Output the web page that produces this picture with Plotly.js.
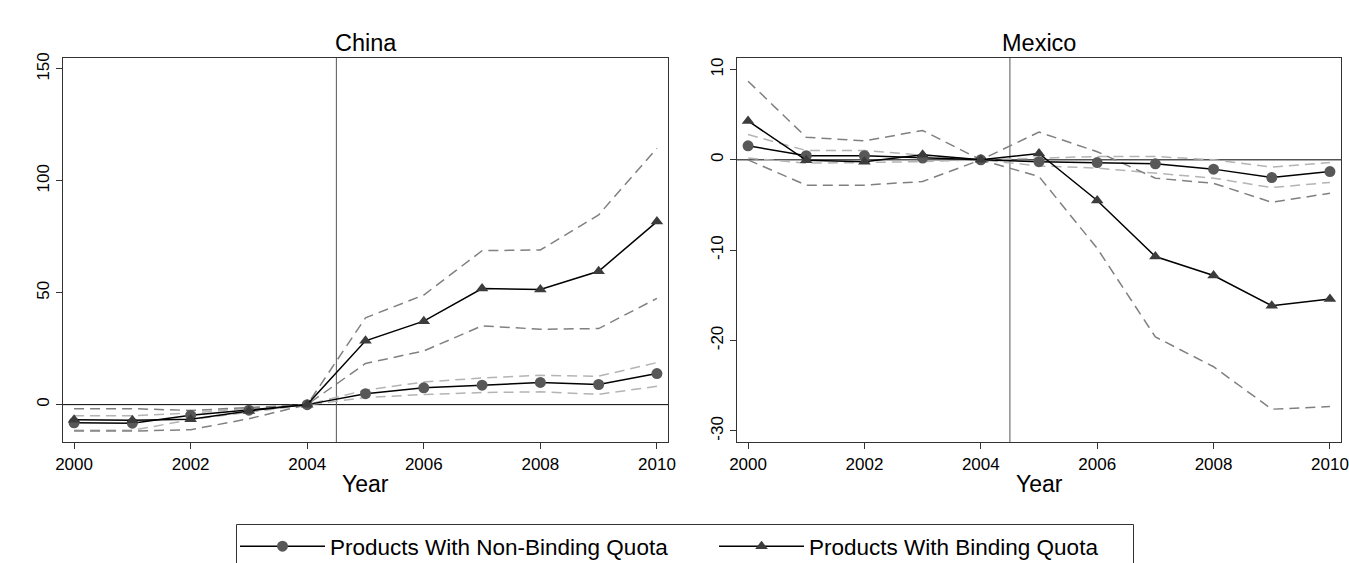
<!DOCTYPE html>
<html>
<head>
<meta charset="utf-8">
<script src="https://cdn.plot.ly/plotly-3.0.1.min.js"></script>
<style>
html,body{margin:0;padding:0;background:#fff;overflow:hidden;}
#chart{width:1349px;height:563px;}
</style>
</head>
<body>
<div id="chart"></div>
<script>
// ---------- data ----------
const years = [2000, 2001, 2002, 2003, 2004, 2005, 2006, 2007, 2008, 2009, 2010];

// China
const chinaNonBinding      = [-8.1, -8.3, -4.8, -2.5, 0, 4.9, 7.5, 8.7, 9.9, 9.0, 13.9];
const chinaNonBindingUpper = [-5.0, -5.0, -3.8, -1.6, 0, 6.5, 10.1, 11.9, 13.1, 12.7, 18.8];
const chinaNonBindingLower = [-11.5, -11.5, -6.7, -3.5, 0, 3.2, 4.5, 5.4, 5.7, 4.6, 8.2];
const chinaBinding         = [-6.8, -7.0, -6.5, -2.8, 0, 28.5, 37.3, 51.9, 51.5, 59.6, 81.8];
const chinaBindingUpper    = [-1.8, -1.8, -2.6, -1.2, 0, 38.8, 49.0, 68.8, 69.1, 84.8, 114.6];
const chinaBindingLower    = [-11.8, -11.8, -11.2, -6.3, 0, 18.4, 24.0, 35.2, 33.7, 34.0, 47.5];

// Mexico
const mexicoNonBinding      = [1.55, 0.45, 0.45, 0.2, 0, -0.2, -0.3, -0.44, -1.03, -1.96, -1.3];
const mexicoNonBindingUpper = [2.8, 1.03, 1.03, 0.55, 0, 0.18, 0.37, 0.37, 0.0, -0.8, -0.3];
const mexicoNonBindingLower = [0.2, -0.37, -0.3, -0.2, 0, -0.67, -0.92, -1.48, -2.03, -3.07, -2.5];
const mexicoBinding         = [4.3, -0.05, -0.2, 0.55, 0, 0.7, -4.5, -10.7, -12.8, -16.15, -15.4];
const mexicoBindingUpper    = [8.7, 2.5, 2.1, 3.25, 0, 3.07, 0.9, -2.03, -2.6, -4.7, -3.7];
const mexicoBindingLower    = [0.0, -2.8, -2.8, -2.4, 0, -1.85, -9.8, -19.6, -22.9, -27.6, -27.3];

const panelTitles = ["China", "Mexico"];
const axisTitle = "Year";
const seriesNames = ["Products With Non-Binding Quota", "Products With Binding Quota"];
const xTickVals = [2000, 2002, 2004, 2006, 2008, 2010];
const xTickText = ["2000", "2002", "2004", "2006", "2008", "2010"];
const chinaTickVals = [0, 50, 100, 150];
const chinaTickText = ["0", "50", "100", "150"];
const mexicoTickVals = [-30, -20, -10, 0, 10];
const mexicoTickText = ["-30", "-20", "-10", "0", "10"];
const policyYear = 2004.5;
const baseline = 0;

// ---------- styles ----------
const FONT = "Liberation Sans, Arial, Helvetica, sans-serif";
const darkDash = "#808080";
const lightDash = "#b4b4b4";
const dashPat = "10px,6px";

function ci(x, y, color, xa, ya) {
  return {x: x, y: y, xaxis: xa, yaxis: ya, mode: "lines", type: "scatter",
    line: {color: color, width: 1.5, dash: dashPat}, showlegend: false, hoverinfo: "skip"};
}
function main(x, y, sym, mcolor, name, xa, ya, show) {
  return {x: x, y: y, xaxis: xa, yaxis: ya, mode: "lines+markers", type: "scatter", name: name,
    line: {color: "#000", width: 1.5},
    marker: {symbol: sym, size: 11, color: mcolor},
    showlegend: show, legendgroup: name, hoverinfo: "skip"};
}

const data = [
  ci(years, chinaNonBindingUpper, lightDash, "x", "y"),
  ci(years, chinaNonBindingLower, lightDash, "x", "y"),
  ci(years, chinaBindingUpper, darkDash, "x", "y"),
  ci(years, chinaBindingLower, darkDash, "x", "y"),
  ci(years, mexicoNonBindingUpper, lightDash, "x2", "y2"),
  ci(years, mexicoNonBindingLower, lightDash, "x2", "y2"),
  ci(years, mexicoBindingUpper, darkDash, "x2", "y2"),
  ci(years, mexicoBindingLower, darkDash, "x2", "y2"),
  main(years, chinaNonBinding, "circle", "#585858", seriesNames[0], "x", "y", true),
  main(years, chinaBinding, "triangle-up", "#3c3c3c", seriesNames[1], "x", "y", true),
  main(years, mexicoNonBinding, "circle", "#585858", seriesNames[0], "x2", "y2", false),
  main(years, mexicoBinding, "triangle-up", "#3c3c3c", seriesNames[1], "x2", "y2", false)
];

const W = 1349, H = 563;
const px = v => v / W;
const py = v => (H - v) / H;

function xax(domain, anchor) {
  return {domain: domain, anchor: anchor, range: [1999.81, 2010.19],
    tickmode: "array", tickvals: xTickVals, ticktext: xTickText,
    ticks: "outside", ticklen: 6, tickwidth: 1, tickcolor: "#333",
    showline: true, mirror: true, linecolor: "#333", linewidth: 1.3,
    showgrid: false, zeroline: false, fixedrange: true, automargin: false,
    tickfont: {family: FONT, size: 17, color: "#000"}};
}
function yax(domain, anchor, range, tv, tt) {
  return {domain: domain, anchor: anchor, range: range,
    tickmode: "array", tickvals: tv, ticktext: tt, tickangle: -90,
    ticks: "outside", ticklen: 6, tickwidth: 1, tickcolor: "#333",
    showline: true, mirror: true, linecolor: "#333", linewidth: 1.3,
    showgrid: false, zeroline: false, fixedrange: true, automargin: false,
    tickfont: {family: FONT, size: 17, color: "#000"}};
}

const yDom = [py(442), py(58)];
const layout = {
  width: W, height: H,
  margin: {l: 0, r: 0, t: 0, b: 0, autoexpand: false},
  paper_bgcolor: "#fff", plot_bgcolor: "#fff",
  font: {family: FONT, color: "#000"},
  hovermode: false,
  xaxis: xax([px(63), px(668)], "y"),
  yaxis: yax(yDom, "x", [-16.7, 154.9], chinaTickVals, chinaTickText),
  xaxis2: xax([px(737), px(1341)], "y2"),
  yaxis2: yax(yDom, "x2", [-31.23, 11.27], mexicoTickVals, mexicoTickText),
  shapes: [
    {type: "line", xref: "x domain", yref: "y", x0: 0, x1: 1, y0: baseline, y1: baseline, line: {color: "#000", width: 1}, layer: "below"},
    {type: "line", xref: "x", yref: "y domain", x0: policyYear, x1: policyYear, y0: 0, y1: 1, line: {color: "#555", width: 1}, layer: "below"},
    {type: "line", xref: "x2 domain", yref: "y2", x0: 0, x1: 1, y0: baseline, y1: baseline, line: {color: "#000", width: 1}, layer: "below"},
    {type: "line", xref: "x2", yref: "y2 domain", x0: policyYear, x1: policyYear, y0: 0, y1: 1, line: {color: "#555", width: 1}, layer: "below"},
    {type: "rect", xref: "paper", yref: "paper", x0: px(236.5), x1: px(1133.5), y0: py(570), y1: py(524.5), line: {color: "#333", width: 1}, fillcolor: "rgba(0,0,0,0)"}
  ],
  annotations: [
    {text: panelTitles[0], xref: "paper", yref: "paper", x: px(365.5), y: py(43), xanchor: "center", yanchor: "middle", showarrow: false, font: {family: FONT, size: 23.5}},
    {text: panelTitles[1], xref: "paper", yref: "paper", x: px(1039), y: py(43), xanchor: "center", yanchor: "middle", showarrow: false, font: {family: FONT, size: 23.5}},
    {text: axisTitle, xref: "paper", yref: "paper", x: px(365.5), y: py(484), xanchor: "center", yanchor: "middle", showarrow: false, font: {family: FONT, size: 23}},
    {text: axisTitle, xref: "paper", yref: "paper", x: px(1039), y: py(484), xanchor: "center", yanchor: "middle", showarrow: false, font: {family: FONT, size: 23}}
  ],
  legend: {orientation: "h", x: px(235), xanchor: "left", y: py(525), yanchor: "top",
    font: {family: FONT, size: 22.5, color: "#000"}, bgcolor: "rgba(0,0,0,0)", borderwidth: 0,
    itemwidth: 85, entrywidth: 379, entrywidthmode: "pixels", traceorder: "normal"}
};

Plotly.newPlot("chart", data, layout, {displayModeBar: false, staticPlot: true});
</script>
</body>
</html>
